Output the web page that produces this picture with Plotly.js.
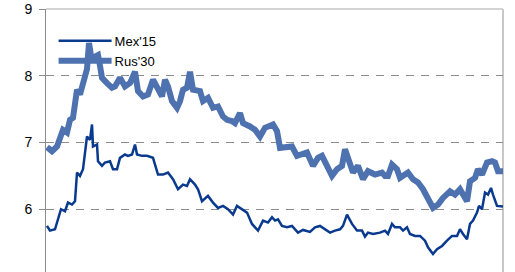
<!DOCTYPE html>
<html>
<head>
<meta charset="utf-8">
<script src="https://cdn.plot.ly/plotly-3.0.1.min.js"></script>
<style>
html,body{margin:0;padding:0;overflow:hidden;background:#fff;}
#chart{width:515px;height:282px;}
</style>
</head>
<body>
<div id="chart"></div>
<script>
// Series names
const seriesNames = ["Mex'15", "Rus'30"];

// Rus'30 (trading-day index, yield %)
const rusDays = [1,6,11,14,17,21,24,27,31,34,37,41,43,45,48,52,54,56,61,66,69,74,79,84,89,92,97,102,107,112,116,119,122,126,131,134,137,141,144,147,151,154,157,162,167,172,177,181,186,189,194,197,204,209,214,219,227,231,234,241,246,251,256,261,267,272,276,281,286,291,296,299,304,307,312,317,322,329,336,339,342,346,351,354,359,362,367,372,377,382,387,392,397,404,409,414,417,421,424,429,432,436,441,446,449,452,457];
const rusYield = [6.93,6.87,6.94,7.09,7.19,7.15,7.34,7.37,7.79,7.72,7.90,8.10,8.49,8.30,8.28,8.31,8.15,7.97,7.89,7.82,7.84,7.97,7.84,7.89,8.06,7.77,7.69,7.72,7.94,7.82,7.69,7.94,7.84,7.62,7.52,7.62,7.79,7.82,8.06,7.79,7.79,7.77,7.62,7.67,7.52,7.54,7.39,7.34,7.32,7.29,7.44,7.29,7.24,7.19,7.09,7.22,7.27,7.17,6.92,6.92,6.94,6.80,6.82,6.85,6.65,6.77,6.80,6.65,6.50,6.60,6.65,6.90,6.70,6.55,6.65,6.45,6.57,6.52,6.55,6.50,6.50,6.67,6.60,6.47,6.52,6.55,6.45,6.40,6.30,6.17,6.02,6.07,6.17,6.27,6.22,6.30,6.22,6.12,6.42,6.47,6.60,6.52,6.70,6.72,6.70,6.57,6.57];

// Mex'15 (trading-day index, yield %)
const mexDays = [1,4,9,12,15,19,22,26,29,31,34,37,41,44,46,47,51,52,56,59,64,67,71,74,79,82,86,89,91,96,101,107,112,117,122,127,132,137,141,144,149,152,156,162,167,172,177,182,187,191,196,201,206,212,217,222,226,229,232,236,241,246,252,257,264,269,274,279,284,289,294,297,301,306,311,316,319,322,327,334,339,342,346,349,354,357,361,364,369,374,379,382,387,391,396,401,406,411,414,417,421,424,427,431,433,436,439,442,445,447,451,457];
const mexYield = [5.75,5.68,5.70,5.85,6.00,5.97,6.10,6.07,6.12,6.55,6.50,6.60,7.09,7.04,7.27,6.94,6.97,6.72,6.65,6.70,6.72,6.60,6.60,6.77,6.82,6.80,6.82,6.97,6.82,6.80,6.80,6.77,6.52,6.52,6.55,6.45,6.30,6.37,6.35,6.45,6.37,6.30,6.12,6.20,6.10,6.02,6.05,6.00,5.92,6.05,6.00,5.95,5.78,5.68,5.83,5.80,5.88,5.83,5.85,5.75,5.73,5.75,5.65,5.69,5.66,5.73,5.75,5.70,5.65,5.68,5.70,5.75,5.92,5.78,5.68,5.68,5.59,5.65,5.63,5.65,5.68,5.63,5.78,5.73,5.73,5.68,5.73,5.63,5.60,5.60,5.53,5.43,5.33,5.40,5.45,5.53,5.60,5.60,5.70,5.63,5.55,5.78,5.83,5.95,6.05,6.00,6.25,6.22,6.32,6.22,6.05,6.04];

// Axis ticks
const yTicks = [5, 6, 7, 8, 9];
const yTickLabels = ["5", "6", "7", "8", "9"];

const traces = [
  {x: mexDays, y: mexYield, name: seriesNames[0], type: 'scatter', mode: 'lines',
   line: {color: '#0a3a8e', width: 2.5}},
  {x: rusDays, y: rusYield, name: seriesNames[1], type: 'scatter', mode: 'lines',
   line: {color: '#4d72af', width: 6}}
];

const layout = {
  width: 515, height: 282,
  margin: {l: 46, r: 12, t: 9, b: 6},
  paper_bgcolor: '#ffffff', plot_bgcolor: '#ffffff',
  font: {family: 'Liberation Sans, Arial, sans-serif', color: '#000000', size: 14},
  showlegend: true,
  legend: {x: 0.0166, y: 0.937, xanchor: 'left', yanchor: 'top', bgcolor: 'rgba(0,0,0,0)',
           itemwidth: 51,
           font: {size: 13, family: 'Liberation Sans, Arial, sans-serif'}, tracegroupgap: 0},
  xaxis: {range: [0, 457], showgrid: false, zeroline: false, showticklabels: false,
          ticks: '', showline: false, fixedrange: true},
  yaxis: {range: [5, 9], tickvals: yTicks, ticktext: yTickLabels,
          showgrid: true, gridcolor: '#8c8c8c', gridwidth: 1, griddash: '8px,7px',
          zeroline: false, showline: true, linecolor: '#8c8c8c', linewidth: 1,
          ticks: 'outside', ticklen: 6, tickcolor: '#8c8c8c', ticklabelstandoff: 4,
          tickfont: {size: 14}, fixedrange: true},
  shapes: [
    {type: 'line', xref: 'paper', yref: 'paper', x0: 1, x1: 1, y0: 0, y1: 1,
     line: {color: '#c8c8c8', width: 2}, layer: 'below'},
    {type: 'line', xref: 'paper', yref: 'paper', x0: 0, x1: 1, y0: 1, y1: 1,
     line: {color: '#d4d4d4', width: 2}, layer: 'below'}
  ]
};

Plotly.newPlot('chart', traces, layout, {displayModeBar: false, staticPlot: true}).then(function (gd) {
  // lengthen the legend line samples to match the reference style
  gd.querySelectorAll('.legend .legendlines path').forEach(function (p) {
    p.setAttribute('d', 'M5,0h53');
  });
});
</script>
</body>
</html>
